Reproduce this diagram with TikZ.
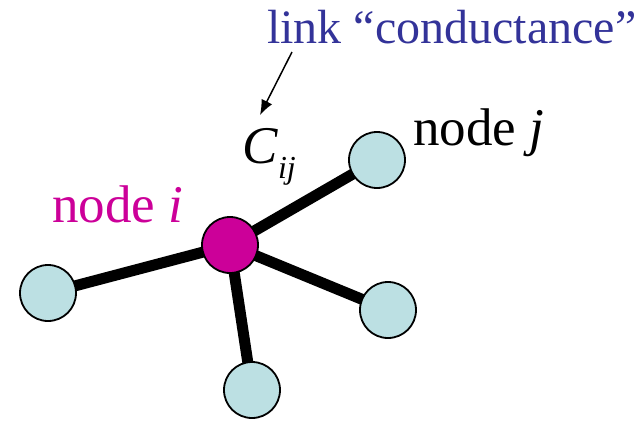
\documentclass[tikz,border=0pt]{standalone}
\usepackage{fontspec}
\setmainfont{Liberation Serif}
\usetikzlibrary{arrows.meta,backgrounds}
\definecolor{nodeblue}{HTML}{BCE0E3}
\definecolor{nodemag}{HTML}{CC0099}
\definecolor{textblue}{HTML}{333399}
\tikzset{
  vert/.style={circle,draw=black,line width=1.8pt,fill=nodeblue,minimum size=56pt,inner sep=0pt},
  hub/.style={vert,fill=nodemag},
  edge/.style={line width=11pt,black},
  lbl/.style={anchor=base west,inner sep=0pt,font=\fontsize{48}{54}\selectfont},
  biglbl/.style={lbl,font=\fontsize{53}{58}\selectfont},
  pointer/.style={line width=1.5pt,-{Latex[length=15pt,width=12pt]}}
}
\begin{document}
\begin{tikzpicture}[x=1pt,y=-1pt]
\useasboundingbox (0,0) rectangle (643,421);
\node[hub]  (c)  at (230,245) {};
\node[vert] (nj) at (377,160) {};
\node[vert] (nl) at (48,293) {};
\node[vert] (nr) at (388,310) {};
\node[vert] (nb) at (252,390) {};
\begin{pgfonlayer}{background}
\draw[edge] (c.center) -- (nj.center);
\draw[edge] (c.center) -- (nl.center);
\draw[edge] (c.center) -- (nr.center);
\draw[edge] (c.center) -- (nb.center);
\end{pgfonlayer}
\node[lbl,text=textblue] (lk) at (267,43) {link “conductance”};
\node[biglbl] (tj) at (413,145) {node \textit{j}};
\node[biglbl,text=nodemag] (ti) at (52,222) {node \textit{i}};
\node[biglbl] (cij) at (242,163) {\textit{C}\raisebox{-0.3em}{\fontsize{32}{32}\selectfont\textit{ij}}};
\coordinate (a1) at (292,52);
\coordinate (a2) at (260,115);
\draw[pointer] (a1) -- (a2);
\end{tikzpicture}
\end{document}
